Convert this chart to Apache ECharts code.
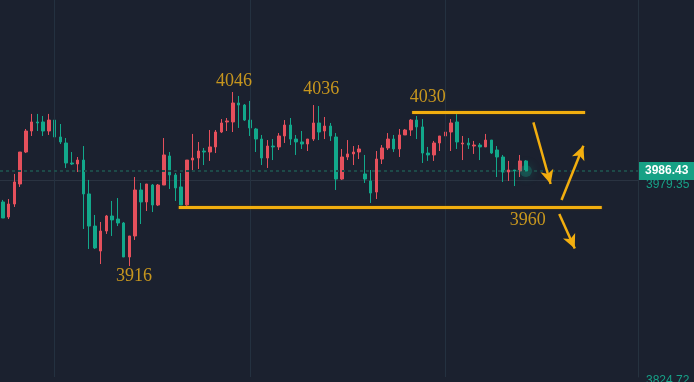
<!DOCTYPE html>
<html><head><meta charset="utf-8">
<script src="https://cdn.jsdelivr.net/npm/echarts/dist/echarts.min.js"></script>
<style>html,body{margin:0;padding:0;background:#1b212f;}#c{width:694px;height:382px;}</style>
</head><body><div id="c"></div>
<script>
// ---- data ----
const slotCount = 111; // candle slots on the time axis (incl. empty future slots)
const opens = [3962.1,3950.3,3960.5,3976.2,4001.3,4017.8,4024.9,4024.9,4017.8,4026.4,
 4013.1,4008.4,3992.7,3991.9,3995.0,3968.4,3943.2,3923.6,3939.3,3951.1,
 3948.7,3945.6,3918.9,3935.4,3971.5,3962.1,3975.4,3959.7,3975.4,3998.2,
 3983.3,3973.9,3959.7,3995.0,3996.6,4002.1,4001.3,4005.3,4017.0,4024.9,
 4024.9,4039.8,4038.2,4026.4,4019.4,4011.5,3996.6,4006.0,4005.3,4013.9,
 4022.5,4011.5,4009.2,4007.6,4011.5,4024.1,4017.8,4021.7,4013.1,3980.1,
 3997.4,3999.8,4001.3,3984.1,3978.6,3969.9,3995.8,4004.5,4011.5,4003.7,
 4014.7,4018.6,4026.4,4021.0,4000.5,3999.0,4008.4,4013.9,4017.0,4024.9,
 4007.6,4008.4,4006.0,4006.8,4005.3,4010.7,4002.9,3997.4,3985.6,3987.2,
 3986.4,3994.3];
const closes = [3949.5,3960.5,3977.8,4001.3,4017.8,4024.9,4024.1,4017.8,4026.4,4013.1,
 4009.2,3992.7,3991.9,3995.0,3968.4,3943.2,3926.0,3939.3,3951.1,3948.0,
 3945.6,3918.9,3935.4,3971.5,3962.1,3976.2,3959.7,3975.4,3999.0,3983.3,
 3973.1,3959.7,3995.0,3996.6,4002.1,4001.3,4005.3,4017.0,4024.1,4025.7,
 4039.8,4038.2,4026.4,4020.2,4011.5,3996.6,4006.0,4005.3,4013.9,4022.5,
 4011.5,4009.2,4007.6,4011.5,4024.1,4017.0,4021.7,4013.9,3980.1,3997.4,
 3999.8,4001.3,4003.7,3980.1,3969.1,3995.8,4004.5,4011.5,4003.7,4014.7,
 4018.6,4026.4,4021.0,4000.5,3999.0,4008.4,4013.9,4017.0,4024.1,4009.2,
 4008.4,4006.8,4006.8,4005.3,4010.7,4000.5,3997.4,3985.6,3987.2,3986.4,
 3994.3,3986.43];
const lows = [3949.5,3948.7,3958.2,3973.9,4000.5,4013.9,4017.8,4013.9,4014.7,4002.9,
 4007.6,3988.8,3991.1,3985.6,3940.9,3925.2,3925.2,3913.4,3937.0,3935.4,
 3943.2,3918.9,3911.8,3932.3,3944.8,3955.0,3954.2,3958.9,3975.4,3972.3,
 3962.9,3959.7,3958.9,3986.4,3988.0,3991.1,3994.3,4000.5,4016.2,4017.8,
 4017.0,4020.2,4025.7,4013.9,4001.3,3991.1,3988.8,3995.0,4002.9,4008.4,
 4006.8,3999.0,4003.7,4002.1,4010.0,4010.7,4011.5,4010.0,3971.5,3979.4,
 3995.0,3991.1,3995.8,3977.0,3961.3,3964.4,3991.9,4002.9,4001.3,3997.4,
 4014.7,4013.9,4011.5,3992.7,3994.3,3994.3,4002.1,4011.5,4002.1,4003.7,
 3995.0,4003.7,3999.8,3995.0,4005.3,3999.8,3981.7,3977.8,3978.6,3974.6,
 3981.7,3986.43];
const highs = [3963.7,3964.4,3984.1,4001.3,4019.4,4031.2,4031.2,4029.6,4031.2,4026.4,
 4023.3,4012.3,4001.3,3997.4,4006.0,3979.4,3951.9,3946.4,3951.9,3962.9,
 3965.2,3946.4,3935.4,3981.7,3977.0,3976.2,3976.2,3976.2,4012.3,4001.3,
 3984.8,3984.8,3995.0,4015.5,4009.2,4004.5,4018.6,4018.6,4027.2,4028.0,
 4048.4,4045.3,4039.0,4041.4,4020.2,4014.7,4010.7,4011.5,4016.2,4026.4,
 4028.0,4014.7,4017.8,4011.5,4038.2,4037.4,4028.8,4024.1,4016.2,4003.7,
 4010.7,4006.0,4006.8,3999.0,3987.2,4002.1,4006.8,4016.2,4014.7,4019.4,
 4019.4,4027.2,4029.6,4027.2,4005.3,4010.0,4013.9,4021.7,4027.2,4031.2,
 4013.9,4012.3,4010.0,4008.4,4015.5,4010.7,4006.0,3999.0,3994.3,3987.2,
 3999.0,3995.0];
const lastPrice = 3986.43;
const yTicks = [3824.72, 3979.35];
const yMin = 3824.72, yMax = 4120.63;
const timeGridSlots = [9, 43, 77];
// drawn annotations (slot index, price)
const levelFrom = [71.2, 30.6];
const levelTo = [101.3, 104.2];
const levelPrice = [4032.5, 3957.9];
const arrowFromX = [92.3, 97.2, 96.8];
const arrowFromP = [4024.6, 3963.6, 3952.7];
const arrowToX = [95.3, 101.0, 99.5];
const arrowToP = [3976.2, 4006.2, 3925.5];
const noteText = ['4046', '4036', '4030', '3916', '3960'];
const noteX = [40.2, 55.4, 73.9, 22.8, 91.3];
const notePrice = [4057.1, 4050.5, 4044.3, 3904.0, 3947.4];

// ---- chart ----
const categories = Array.from({length: slotCount}, (_, i) => String(i + 1));
const candles = opens.map((o, i) => [o, closes[i], lows[i], highs[i]]);
const UP = '#e5505c', DOWN = '#12a88b', GOLD = '#f2ae0f';

const chart = echarts.init(document.getElementById('c'));
chart.setOption({
  animation: false,
  backgroundColor: '#1b212f',
  grid: {left: 0, right: 56, top: 0, bottom: 5, containLabel: false, outerBoundsMode: 'none'},
  xAxis: [
    {type: 'category', data: categories, boundaryGap: true,
     axisLine: {show: false}, axisTick: {show: false}, axisLabel: {show: false}, splitLine: {show: false}},
    {type: 'value', min: -0.5, max: slotCount - 0.5, show: false, splitLine: {show: false}}
  ],
  yAxis: {
    type: 'value', position: 'right', min: yMin, max: yMax, interval: yTicks[1] - yTicks[0],
    axisLine: {show: true, onZero: false, lineStyle: {color: '#26323f', width: 1}},
    axisTick: {show: false},
    splitLine: {show: true, showMinLine: false, showMaxLine: false, lineStyle: {color: '#2a3341', width: 1}},
    axisLabel: {
      showMaxLabel: false, margin: 8, color: '#17a087', fontSize: 12, fontFamily: 'Liberation Sans',
      formatter: function (v) {
        const s = v.toFixed(2);
        if (Math.abs(v - yTicks[1]) < 0.01) return '{shift|' + s + '}';
        if (Math.abs(v - yTicks[0]) < 0.01) return '{low|' + s + '}';
        return s;
      },
      rich: {
        shift: {padding: [10, 0, 0, 0], color: '#17a087', fontSize: 12, fontFamily: 'Liberation Sans'},
        low: {padding: [7, 0, 0, 0], color: '#17a087', fontSize: 12, fontFamily: 'Liberation Sans'}
      }
    }
  },
  series: [
    {
      type: 'line', xAxisIndex: 1, data: [], z: 1, silent: true,
      markLine: {silent: true, symbol: ['none', 'none'], label: {show: false},
        lineStyle: {color: '#243140', width: 1, type: 'solid'},
        data: timeGridSlots.map(v => ({xAxis: v}))}
    },
    {
      type: 'candlestick', xAxisIndex: 0, data: candles, barWidth: 3, z: 3,
      itemStyle: {color: UP, color0: DOWN, borderColor: UP, borderColor0: DOWN, borderWidth: 1},
      markLine: {
        silent: true, symbol: ['none', 'none'],
        lineStyle: {color: '#1d4a48', width: 2, type: [3, 3]},
        label: {show: true, position: 'end', distance: 1, formatter: lastPrice.toFixed(2),
          backgroundColor: '#17a185', color: '#ffffff', fontSize: 12, lineHeight: 12, fontWeight: 'bold',
          fontFamily: 'Liberation Sans', padding: [3, 6, 3, 6]},
        data: [{yAxis: lastPrice}]
      }
    },
    {
      type: 'scatter', xAxisIndex: 0, z: 4, silent: true,
      data: [[opens.length - 1, lastPrice]], symbolSize: 12,
      itemStyle: {color: 'rgba(23,170,140,0.35)', shadowBlur: 10, shadowColor: 'rgba(23,170,140,0.9)'}
    },
    {
      type: 'line', xAxisIndex: 1, data: [], z: 5, silent: true,
      markLine: {silent: true, symbol: ['none', 'none'], label: {show: false},
        lineStyle: {color: GOLD, width: 3, type: 'solid', shadowColor: 'rgba(120,80,0,0.8)', shadowBlur: 2},
        data: levelPrice.map((p, i) => [{coord: [levelFrom[i], p]}, {coord: [levelTo[i], p]}])}
    },
    {
      type: 'line', xAxisIndex: 1, data: [], z: 5, silent: true,
      markLine: {silent: true, symbol: ['none', 'arrow'], symbolSize: [10, 14], label: {show: false},
        lineStyle: {color: GOLD, width: 2.5, type: 'solid'},
        itemStyle: {color: GOLD},
        data: arrowFromX.map((x, i) => [{coord: [x, arrowFromP[i]]}, {coord: [arrowToX[i], arrowToP[i]]}])}
    },
    {
      type: 'scatter', xAxisIndex: 1, z: 6, silent: true, symbolSize: 1,
      itemStyle: {color: 'rgba(0,0,0,0)'},
      data: noteText.map((t, i) => ({name: t, value: [noteX[i], notePrice[i]]})),
      label: {show: true, position: 'inside', formatter: '{b}', color: '#f2b41a',
        fontSize: 18, fontFamily: 'Liberation Serif'}
    }
  ]
});
</script></body></html>
